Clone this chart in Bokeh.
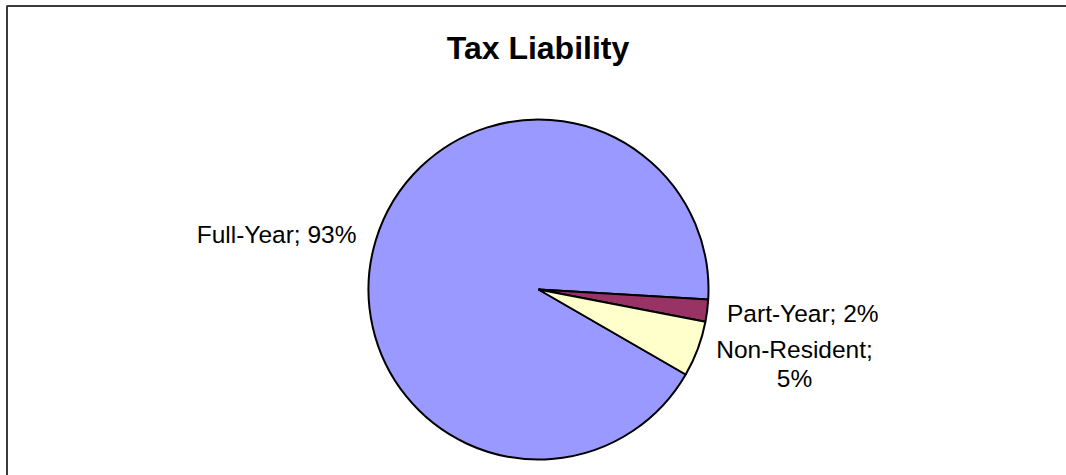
import math
from bokeh.plotting import figure
from bokeh.models import ColumnDataSource, Range1d, BoxAnnotation, Label
from bokeh.core.properties import value
from bokeh.embed import file_html
from bokeh.resources import INLINE

# ---- data ----
categories = ["Full-Year", "Part-Year", "Non-Resident"]
shares = [92.6, 2.1, 5.3]
colors = ["#9999FF", "#993366", "#FFFFCC"]
chart_title = "Tax Liability"

# ---- layout (pixels of the page) ----
W, H = 1066, 475
CX, CY, R = 538, -289, 170          # pie centre / radius (page coords, y negated)
FIRST_SLICE_ANGLE = 120              # degrees, clockwise from 12 o'clock
FONT = "Liberation Sans"

total = sum(shares)
start = math.radians(90 - FIRST_SLICE_ANGLE)
starts, ends, mids = [], [], []
cur = start
for v in shares:
    s = cur
    e = cur - v / total * 2 * math.pi
    starts.append(s)
    ends.append(e)
    mids.append((s + e) / 2)
    cur = e

src = ColumnDataSource(dict(cat=categories, val=shares, color=colors,
                            start=starts, end=ends))

p = figure(width=W, height=H, output_backend="svg", toolbar_location=None,
           x_range=Range1d(0, W), y_range=Range1d(-H, 0),
           min_border=0, tools="")
p.axis.visible = False
p.grid.visible = False
p.outline_line_color = None
p.background_fill_color = "white"
p.border_fill_color = "white"

# chart-area frame (only top & left edges fall inside the picture)
p.add_layout(BoxAnnotation(left=6.5, top=-5.5, right=W + 20, bottom=-H - 20,
                           fill_alpha=0, line_color="#3a3a3a", line_alpha=1.0,
                           line_width=2, level="underlay"))

p.wedge(x=CX, y=CY, radius=R, start_angle="start", end_angle="end",
        direction="clock", fill_color="color", line_color="black",
        line_width=2, source=src)

# data labels "Name; NN%"
texts, lx, ly, aligns = [], [], [], []
for c, v, m in zip(categories, shares, mids):
    pct = f"{round(v / total * 100)}%"
    rr = R + 20
    x = CX + rr * math.cos(m)
    y = CY + rr * math.sin(m)
    if c == "Non-Resident":
        texts.append(f"{c};\n{pct}")
        lx.append(x + 78)
        ly.append(y - 8)
        aligns.append("center")
    else:
        texts.append(f"{c}; {pct}")
        lx.append(x)
        ly.append(y)
        aligns.append("left" if math.cos(m) > 0 else "right")

lab = ColumnDataSource(dict(x=lx, y=ly, t=texts, a=aligns))
p.text(x="x", y="y", text="t", text_align="a", text_baseline="middle",
       text_font=value(FONT), text_font_size="24.5px", text_color="#000000",
       text_line_height=1.1, source=lab)

p.add_layout(Label(x=537.5, y=-47.5, text=chart_title, text_align="center",
                   text_baseline="middle", text_font=FONT,
                   text_font_style="bold", text_font_size="32px",
                   text_color="#000000"))

open("out.html", "w").write(file_html(p, INLINE))
